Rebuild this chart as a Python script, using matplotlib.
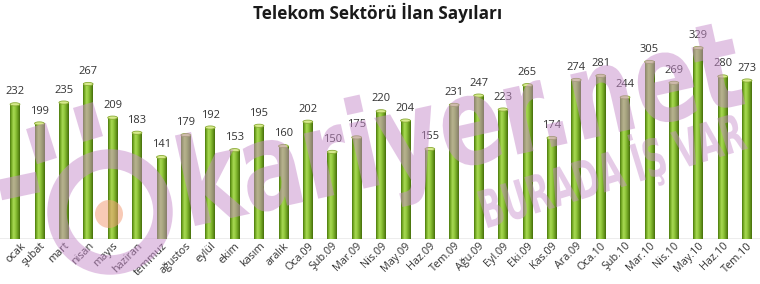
import numpy as np
import matplotlib
matplotlib.use("Agg")
import matplotlib.pyplot as plt
from matplotlib.colors import LinearSegmentedColormap
from matplotlib.patches import Ellipse, PathPatch, Circle
from matplotlib.textpath import TextPath
from matplotlib.font_manager import FontProperties
from matplotlib.lines import Line2D
import matplotlib.transforms as mtransforms

title = "Telekom Sektörü İlan Sayıları"
months = ["ocak", "şubat", "mart", "nisan", "mayıs", "haziran", "temmuz", "ağustos",
          "eylül", "ekim", "kasım", "aralık",
          "Oca.09", "Şub.09", "Mar.09", "Nis.09", "May.09", "Haz.09", "Tem.09", "Ağu.09",
          "Eyl.09", "Eki.09", "Kas.09", "Ara.09",
          "Oca.10", "Şub.10", "Mar.10", "Nis.10", "May.10", "Haz.10", "Tem.10"]
counts = [232, 199, 235, 267, 209, 183, 141, 179, 192, 153, 195, 160,
          202, 150, 175, 220, 204, 155, 231, 247, 223, 265, 174, 274,
          281, 244, 305, 269, 329, 280, 273]

W, H = 760, 284
fig = plt.figure(figsize=(W / 100, H / 100), dpi=100)
ax = fig.add_axes([0, 45 / H, 1, 209 / H])

# cylinder shading across the bar width
cyl = LinearSegmentedColormap.from_list("cyl", [
  (0.0, "#4c7a10"), (0.15, "#77ad25"), (0.35, "#a9d955"),
  (0.55, "#92c83c"), (0.8, "#6a9c1e"), (1.0, "#466f0c")])
grad = np.linspace(0, 1, 32).reshape(1, -1)

bw = 0.4
x = np.arange(len(counts))
for xi, v in zip(x, counts):
  ax.imshow(grad, extent=[xi - bw / 2, xi + bw / 2, 0, v], aspect="auto",
            cmap=cyl, interpolation="bilinear", zorder=2)
  ax.add_patch(Ellipse((xi, v), bw, 5.5, facecolor="#d6ea8c",
                       edgecolor="#8aab36", lw=0.6, zorder=3))
  ax.annotate(str(v), (xi, v), xytext=(0, 5), textcoords="offset points",
              ha="center", va="bottom", fontsize=8, color="#333333",
              family="Open Sans")

ax.axhline(0, color="#a6a6a6", lw=1, zorder=1)
ax.set_xlim(-0.615, 30.53)
ax.set_ylim(0, 360)
ax.set_xticks(x)
ax.set_xticklabels(months, rotation=45, ha="right", rotation_mode="anchor",
                   fontsize=7.8, color="#333333", family="Open Sans")
ax.tick_params(axis="x", length=0, pad=1)
ax.set_yticks([])
for s in ax.spines.values():
  s.set_visible(False)
# keep the first label inside the picture
first = ax.get_xticklabels()[0]
first.set_transform(first.get_transform() +
                    mtransforms.ScaledTranslation(5 / 100, 0, fig.dpi_scale_trans))

fig.text(0.497, 1 - 13 / H, title, ha="center", va="center", fontsize=12.3,
         fontweight="bold", color="#1a1a1a", family="Open Sans")

# watermark (kariyer.net logo), in pixel coords from top-left
pix = mtransforms.Affine2D().scale(1 / W, -1 / H).translate(0, 1) + fig.transFigure
wm = "#c78ccb"
bold = FontProperties(family="DejaVu Sans", weight="bold")

def stamp(txt, x0, y0, width, em, angle, alpha):
  p = TextPath((0, 0), txt, size=100, prop=bold)
  ext = p.get_extents()
  sx = width / ext.width
  sy = em / 100
  tr = mtransforms.Affine2D().translate(-ext.x0, 0).scale(sx, -sy) \
    .rotate_deg(-angle).translate(x0, y0)
  fig.add_artist(PathPatch(tr.transform_path(p), transform=pix,
                           facecolor=wm, edgecolor="none", alpha=alpha, zorder=5))

stamp("kariyer.net", 195, 226, 565, 122, 12.5, 0.5)
stamp("BURADA İŞ VAR", 488, 228, 272, 52, 17, 0.45)

fig.add_artist(Circle((110, 212), 53, transform=pix, fill=False,
                      edgecolor=wm, lw=14, alpha=0.5, zorder=5))
fig.add_artist(Circle((109, 214), 14, transform=pix, facecolor="#f3a07a",
                      edgecolor="none", alpha=0.55, zorder=5))
for (xa, ya, xb, yb) in [(0, 190, 38, 182), (36, 126, 47, 161), (83, 105, 93, 139)]:
  fig.add_artist(Line2D([xa, xb], [ya, yb], transform=pix, color=wm,
                        lw=15, alpha=0.5, solid_capstyle="butt", zorder=5))

fig.savefig("out.png", dpi=100)
